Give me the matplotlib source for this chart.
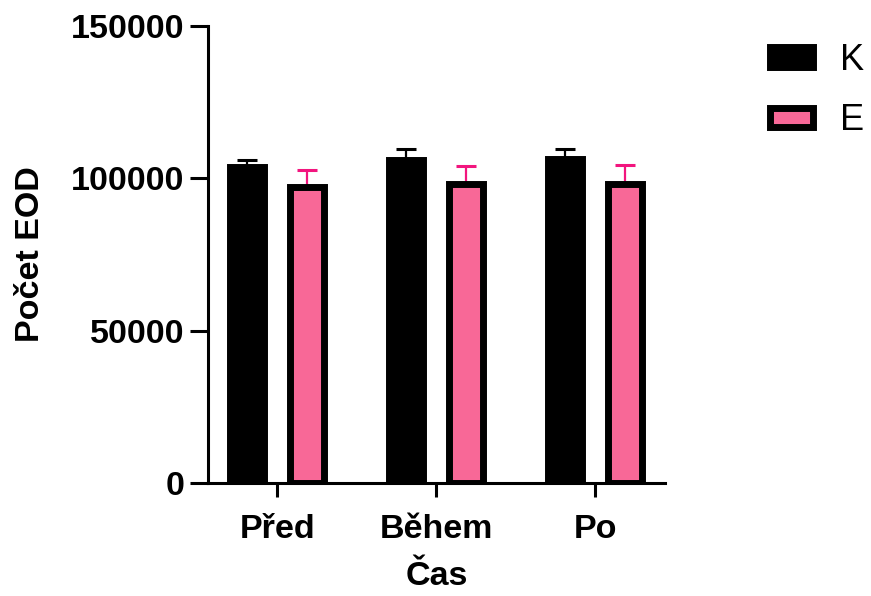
import matplotlib.pyplot as plt
import numpy as np

plt.rcParams['font.family'] = ['Liberation Sans', 'DejaVu Sans']

# --- data ---
casy = ["Před", "Během", "Po"]
skupiny = ["K", "E"]
prumer_K = [103600, 105900, 106200]
prumer_E = [97100, 98200, 98200]
sem_K = [2400, 3700, 3500]
sem_E = [5500, 5800, 6200]

barvy = {"K": "#000000", "E": "#F86897"}
barvy_err = {"K": "#000000", "E": "#F2157E"}

fig = plt.figure(figsize=(8.71, 5.96), dpi=100)
ax = fig.add_axes([208/871, (596-483)/596, (665-208)/871, (483-26)/596])

x = np.arange(len(casy))
w = 0.215
off = 0.19

for k, (g, m, s) in enumerate(zip(skupiny, [prumer_K, prumer_E], [sem_K, sem_E])):
    pos = x + (-off if k == 0 else off)
    ax.errorbar(pos, m, yerr=[np.zeros(len(s)), s], fmt="none",
                ecolor=barvy_err[g], elinewidth=1.6, capsize=7, capthick=2.2, zorder=1)
    ax.bar(pos, m, width=w, color=barvy[g], edgecolor="black", linewidth=5,
           label=g, zorder=2)

ax.set_ylim(0, 150000)
ax.set_xlim(-0.435, 2.44)
ax.set_yticks([0, 50000, 100000, 150000])
ax.set_xticks(x)
ax.set_xticklabels(casy)

for sp in ["top", "right"]:
    ax.spines[sp].set_visible(False)
for sp in ["left", "bottom"]:
    ax.spines[sp].set_linewidth(2.2)

ax.tick_params(axis="y", length=13, width=2.2, labelsize=24.5, pad=4)
ax.tick_params(axis="x", length=10, width=2.2, labelsize=24.5, pad=12)
for lab in ax.get_xticklabels() + ax.get_yticklabels():
    lab.set_fontweight("bold")

ax.set_ylabel("Počet EOD", fontsize=24.5, fontweight="bold", labelpad=18)
ax.set_xlabel("Čas", fontsize=24.5, fontweight="bold", labelpad=12)

fig.legend(loc="upper left", bbox_to_anchor=(752/871, 1 - 25/596), frameon=False,
           fontsize=26, borderpad=0, handlelength=1.2, handleheight=0.45,
           handletextpad=0.75, labelspacing=0.7)

plt.savefig("out.png", dpi=100)
